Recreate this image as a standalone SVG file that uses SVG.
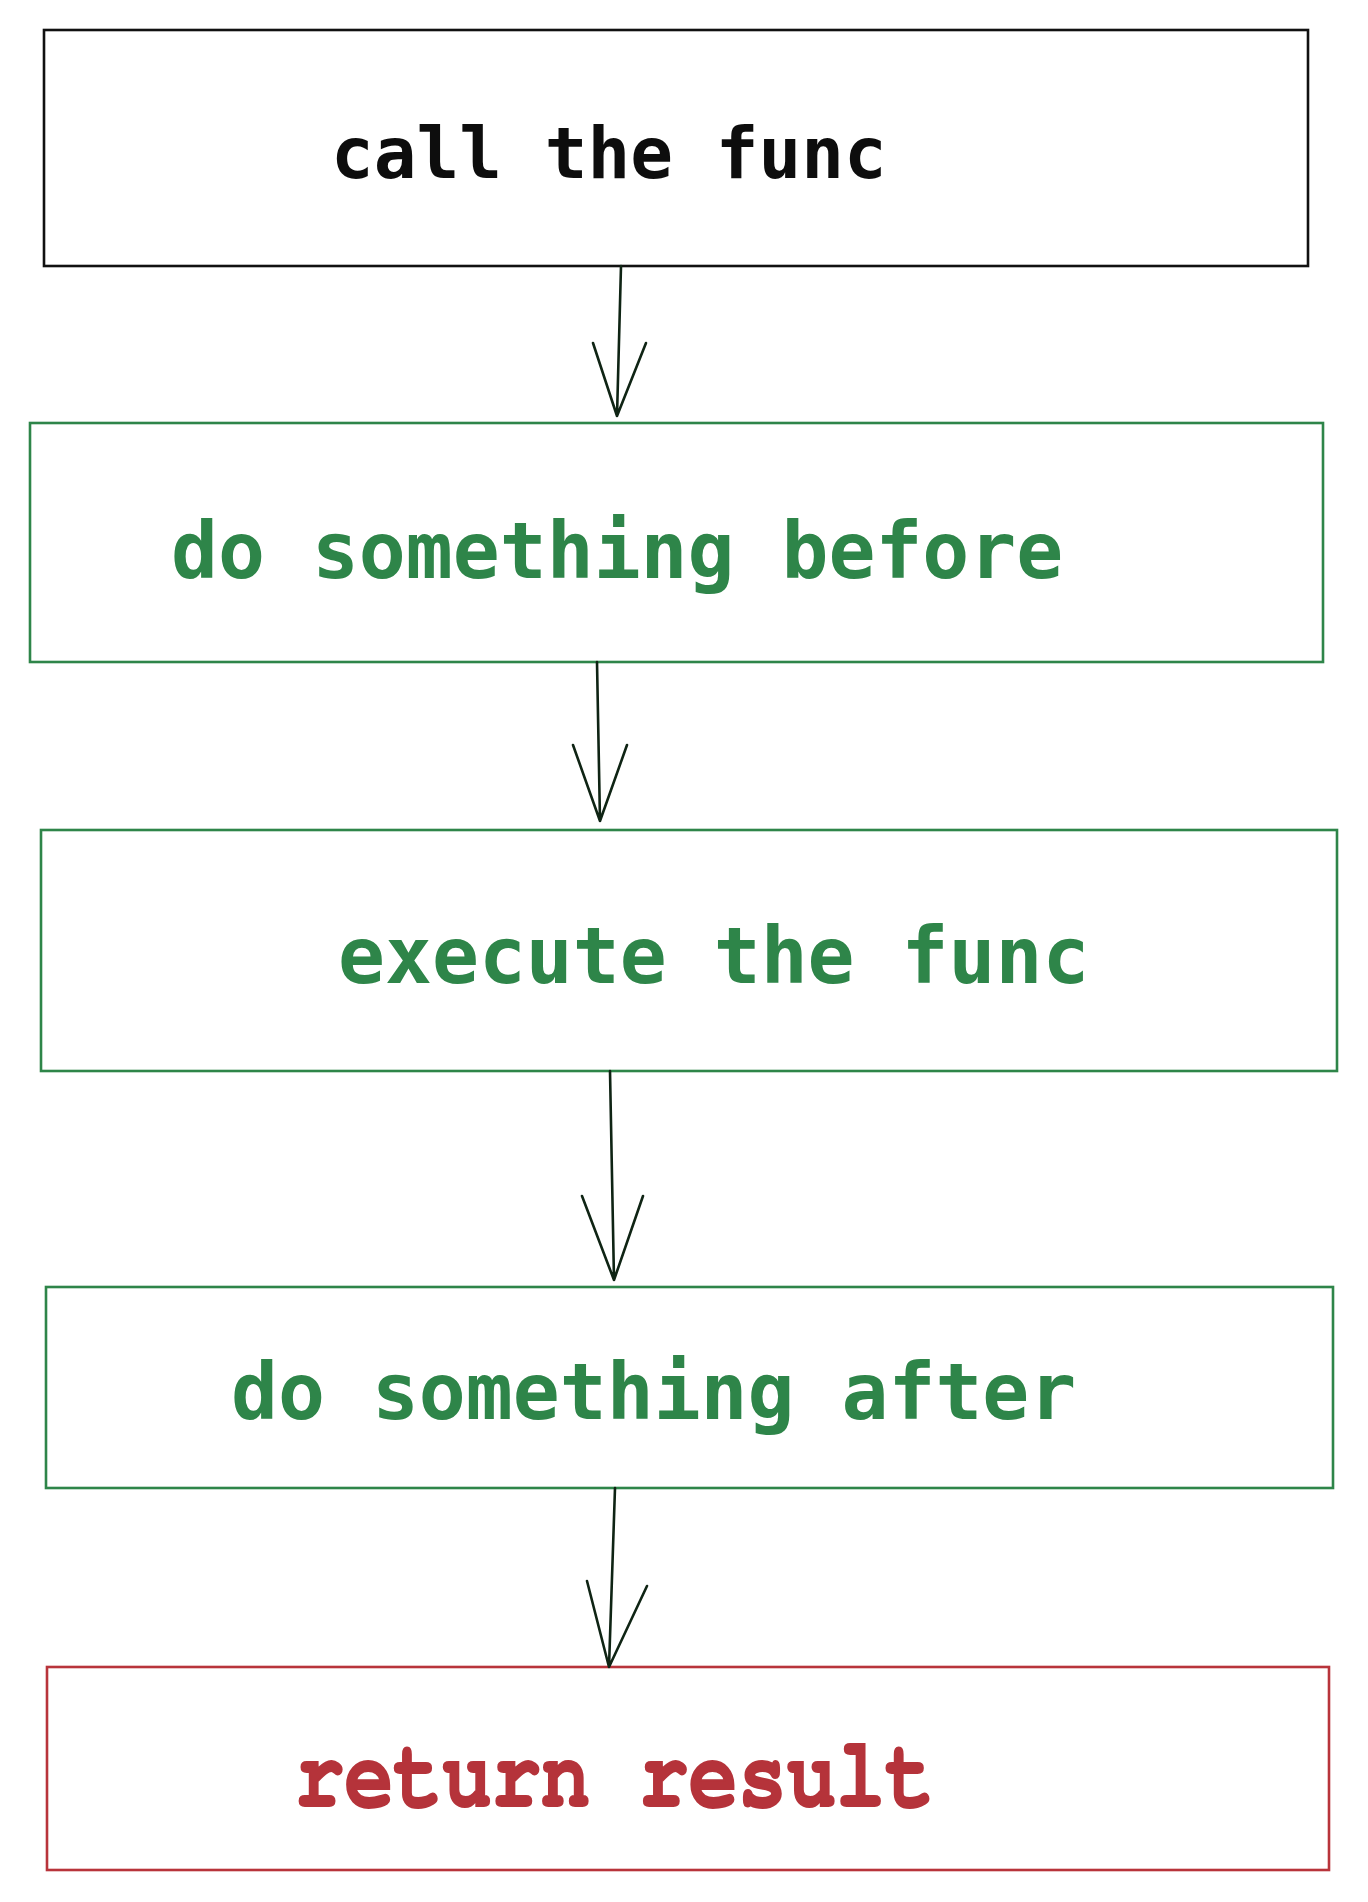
<svg xmlns="http://www.w3.org/2000/svg" width="1368" height="1902" viewBox="0 0 1368 1902">
<style>
.box{fill:#ffffff;stroke-width:2.6}
.k{stroke:#111111}
.g{stroke:#2e8549}
.r{stroke:#b8343b}
.t{font-family:"DejaVu Sans Mono","Liberation Mono",monospace;font-weight:bold}
.tk{fill:#0d0d0d}
.tg{fill:#2e8549}
.tr{fill:#b5333a;stroke:#b5333a;stroke-width:1.6;font-family:"Nimbus Mono PS","Nimbus Mono L","FreeMono","Courier","Liberation Mono",monospace;font-weight:bold}
.c{fill:none;stroke:#0f2414;stroke-width:2.6;stroke-linecap:round;stroke-linejoin:round}
</style>
<rect width="1368" height="1902" fill="#ffffff"/>
<g id="node-call">
<rect class="box k" x="44" y="30" width="1264" height="236"/>
<text class="t tk" x="331" y="178" font-size="71">call the func</text>
</g>
<g id="node-before">
<rect class="box g" x="30" y="423" width="1293" height="239"/>
<text class="t tg" x="171" y="578" font-size="78">do something before</text>
</g>
<g id="node-execute">
<rect class="box g" x="41" y="830" width="1296" height="241"/>
<text class="t tg" x="338" y="983" font-size="78">execute the func</text>
</g>
<g id="node-after">
<rect class="box g" x="46" y="1287" width="1287" height="201"/>
<text class="t tg" x="231" y="1419" font-size="78">do something after</text>
</g>
<g id="node-return">
<rect class="box r" x="47" y="1667" width="1282" height="203"/>
<text class="tr" x="0" y="0" font-size="82" transform="translate(295,1806) scale(1,1.22)">return result</text>
</g>
<g id="connectors">
<path class="c" d="M621 266 L617 416 M593 343 L617 416 L646 343"/>
<path class="c" d="M597 662 L600 821 M573 745 L600 821 L627 745"/>
<path class="c" d="M610 1071 L614 1280 M582 1196 L614 1280 L643 1196"/>
<path class="c" d="M615 1488 L609 1667 M587 1581 L609 1667 L647 1586"/>
</g>
</svg>
